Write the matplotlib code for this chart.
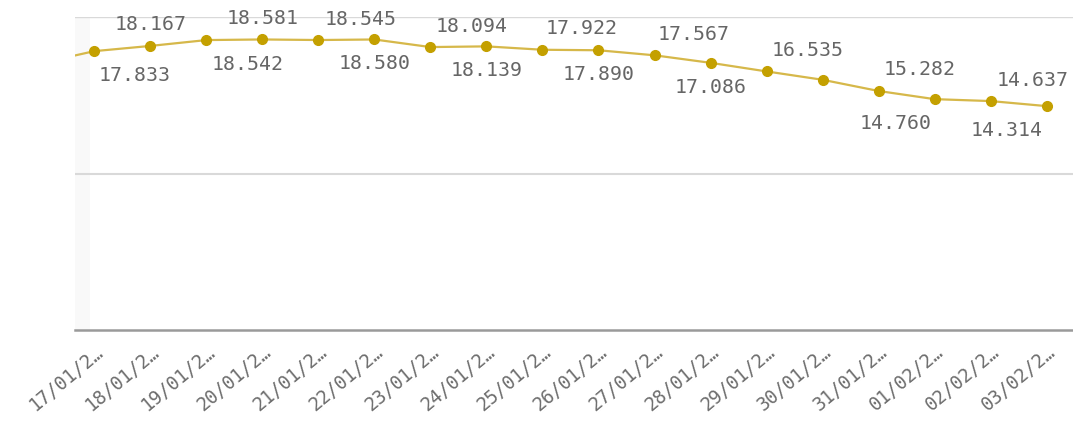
import numpy as np
import matplotlib
matplotlib.use("Agg")
import matplotlib.pyplot as plt
import matplotlib.transforms as mtransforms
from matplotlib.patches import Rectangle

# data (first point sits just left of the visible window)
dates = ['16/01/2…', '17/01/2…', '18/01/2…', '19/01/2…', '20/01/2…', '21/01/2…',
         '22/01/2…', '23/01/2…', '24/01/2…', '25/01/2…', '26/01/2…', '27/01/2…',
         '28/01/2…', '29/01/2…', '30/01/2…', '31/01/2…', '01/02/2…', '02/02/2…',
         '03/02/2…']
values = [17.03, 17.833, 18.167, 18.542, 18.581, 18.545, 18.580, 18.094, 18.139,
          17.922, 17.890, 17.567, 17.086, 16.535, 16.00, 15.282, 14.760, 14.637,
          14.314]
# which labels Qlik showed (one hidden to avoid overlap)
shown = [False, True, True, True, True, True, True, True, True,
         True, True, True, True, True, False, True, True, True, True]

# label layout: side (1 above, -1 below) and horizontal shift in px
side = [0, -1, 1, -1, 1, 1, -1, 1, -1, 1, -1, 1, -1, 1, 0, 1, -1, 1, -1]
shift = [0, 40, 0, 41, 0, 42, 0, 41, 0, 39, 0, 39, 0, 41, 0, 41, -39, 42, -40]

line_col = '#d6b84a'
dot_col = '#c4a000'
txt_col = '#666666'
font = 'DejaVu Sans Mono'

fig = plt.figure(figsize=(10.73, 4.24), dpi=100)
ax = fig.add_axes([74.5 / 1073, (424 - 329.7) / 424, (1073 - 74.5) / 1073, 312.4 / 424])

# faint scroll shadow on the left edge of the plot
ax.add_patch(Rectangle((0, 0), 15 / 998.5, 1, transform=ax.transAxes,
                       color='#f9f9f9', lw=0, zorder=0))

x = np.arange(len(values))
ax.plot(x, values, color=line_col, lw=1.6, zorder=3)
ax.plot(x, values, 'o', color=dot_col, ms=7, zorder=4)

for i in range(len(values)):
    if not shown[i]:
        continue
    dy = 15.5 if side[i] > 0 else -30
    ax.annotate(f'{values[i]:.3f}', (x[i], values[i]), xytext=(shift[i], dy),
                textcoords='offset pixels', ha='center', va='baseline',
                fontsize=14.3, family=font, color=txt_col, zorder=5)

ax.set_xlim(1 - 0.353, 18.47)
ax.set_ylim(0, 20)

# gridlines
ax.axhline(20, color='#d9d9d9', lw=1.0, zorder=1)
ax.axhline(10, color='#d9d9d9', lw=1.5, zorder=1)
ax.axhline(0, color='#9a9a9a', lw=1.8, zorder=2, clip_on=False)

for s in ax.spines.values():
    s.set_visible(False)
ax.set_yticks([])
ax.set_xticks(x[1:])
ax.set_xticklabels(dates[1:], rotation=40, ha='right', va='top',
                   rotation_mode='anchor', fontsize=13.5, family=font, color='#6e6e6e')
ax.tick_params(axis='x', length=0, pad=9)
off = mtransforms.ScaledTranslation(0, 0, fig.dpi_scale_trans)
for lab in ax.get_xticklabels():
    lab.set_transform(lab.get_transform() + off)

fig.savefig('out.png', dpi=100)
